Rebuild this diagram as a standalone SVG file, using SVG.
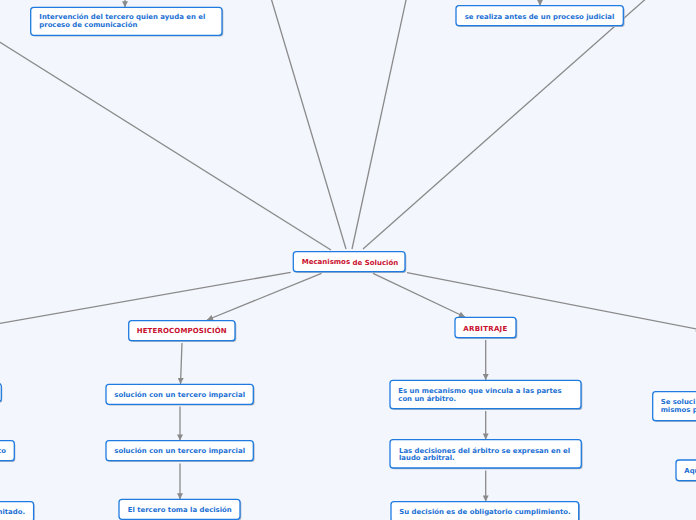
<svg xmlns="http://www.w3.org/2000/svg" width="696" height="520" viewBox="0 0 696 520">
<style>
.bg{fill:#f3f6fd}
.n rect{fill:#ffffff;stroke:#1f7be0;stroke-width:1.3}
.n .sh{fill:#a9b4c4;stroke:none}
.t{font-family:"DejaVu Sans",Verdana,sans-serif;font-weight:bold;font-size:6.9px;fill:#1a6fd4}
.r{fill:#c8102e;font-size:7px}
.c path{fill:none;stroke:#8a8a8a;stroke-width:1.3}
</style>
<defs>
<marker id="ah" viewBox="0 0 10 10" refX="10" refY="5" markerWidth="7" markerHeight="6" markerUnits="userSpaceOnUse" orient="auto">
<path d="M0,0 L10,5 L0,10 z" fill="#8a8a8a"/>
</marker>
</defs>
<rect class="bg" x="0" y="0" width="696" height="520"/>
<g id="connectors" class="c">
<path d="M331,250 L-20,29.6"/>
<path d="M346,249 L268.6,-10"/>
<path d="M352,249 L408.2,-10"/>
<path d="M363,249 L655.8,-10"/>
<path d="M290.7,272.3 L-20,326.8"/>
<path d="M321.5,273.3 L207,320" marker-end="url(#ah)"/>
<path d="M373,273.3 L465,317" marker-end="url(#ah)"/>
<path d="M407,272.7 L702,330" marker-end="url(#ah)"/>
<path d="M182,343 L180.5,384" marker-end="url(#ah)"/>
<path d="M180,406.5 L180,440.5" marker-end="url(#ah)"/>
<path d="M180,463.5 L180,499.3" marker-end="url(#ah)"/>
<path d="M485.7,340 L485.7,380" marker-end="url(#ah)"/>
<path d="M485.7,411 L485.7,439.5" marker-end="url(#ah)"/>
<path d="M485.7,470.5 L485.7,501.5" marker-end="url(#ah)"/>
<path d="M125,-10 L125,7.3" marker-end="url(#ah)"/>
<path d="M540,-10 L540,5.7" marker-end="url(#ah)"/>
</g>
<g id="n-intervencion" class="n">
<rect class="sh" x="32" y="8.5" width="191.3" height="28" rx="3"/>
<rect x="30.7" y="7.3" width="191.3" height="28" rx="3"/>
<text class="t" x="39.3" y="19" textLength="166">Intervención del tercero quien ayuda en el</text>
<text class="t" x="39.3" y="27">proceso de comunicación</text>
</g>
<g id="n-antes" class="n">
<rect class="sh" x="457.3" y="6.9" width="167.3" height="20" rx="3"/>
<rect x="456" y="5.7" width="167.3" height="20" rx="3"/>
<text class="t" x="464.7" y="18.5" textLength="149.6">se realiza antes de un proceso judicial</text>
</g>
<g id="n-mecanismos" class="n">
<rect class="sh" x="294.6" y="252.9" width="111.7" height="20" rx="3"/>
<rect x="293.3" y="251.7" width="111.7" height="20" rx="3"/>
<text class="t r" x="301.7" y="264.3">Mecanismos <tspan dy="1">de Solución</tspan></text>
</g>
<g id="n-hetero" class="n">
<rect class="sh" x="130" y="321.9" width="106.3" height="20" rx="3"/>
<rect x="128.7" y="320.7" width="106.3" height="20" rx="3"/>
<text class="t r" x="136.7" y="332.7" textLength="90">HETEROCOMPOSICIÓN</text>
</g>
<g id="n-sol1" class="n">
<rect class="sh" x="107.3" y="385.5" width="147.3" height="20" rx="3"/>
<rect x="106" y="384.3" width="147.3" height="20" rx="3"/>
<text class="t" x="114.3" y="396.7" textLength="130.7">solución con un tercero imparcial</text>
</g>
<g id="n-sol2" class="n">
<rect class="sh" x="107.3" y="441.9" width="147.3" height="20" rx="3"/>
<rect x="106" y="440.7" width="147.3" height="20" rx="3"/>
<text class="t" x="114.3" y="452.7" textLength="130.7">solución con un tercero imparcial</text>
</g>
<g id="n-decision" class="n">
<rect class="sh" x="120.3" y="500.5" width="121" height="20" rx="3"/>
<rect x="119" y="499.3" width="121" height="20" rx="3"/>
<text class="t" x="127.7" y="512" textLength="104">El tercero toma la decisión</text>
</g>
<g id="n-arbitraje" class="n">
<rect class="sh" x="456.3" y="318.5" width="61" height="20.4" rx="3"/>
<rect x="455" y="317.3" width="61" height="20.4" rx="3"/>
<text class="t r" x="463.3" y="330.7" textLength="44">ARBITRAJE</text>
</g>
<g id="n-vincula" class="n">
<rect class="sh" x="391.3" y="381.5" width="191" height="28.4" rx="3"/>
<rect x="390" y="380.3" width="191" height="28.4" rx="3"/>
<text class="t" x="398.3" y="392.7" textLength="163.3">Es un mecanismo que vincula a las partes</text>
<text class="t" x="398.3" y="400.7">con un árbitro.</text>
</g>
<g id="n-laudo" class="n">
<rect class="sh" x="391.3" y="440.9" width="191.3" height="28.3" rx="3"/>
<rect x="390" y="439.7" width="191.3" height="28.3" rx="3"/>
<text class="t" x="399" y="452.5" textLength="171">Las decisiones del árbitro se expresan en el</text>
<text class="t" x="399" y="460.3">laudo arbitral.</text>
</g>
<g id="n-obligatorio" class="n">
<rect class="sh" x="392.3" y="502.9" width="187.7" height="20" rx="3"/>
<rect x="391" y="501.7" width="187.7" height="20" rx="3"/>
<text class="t" x="399.3" y="514.3" textLength="171.3">Su decisión es de obligatorio cumplimiento.</text>
</g>
<g id="n-left1" class="n">
<rect class="sh" x="-40" y="384.5" width="42.3" height="18.4" rx="3"/>
<rect x="-41" y="383.3" width="42.3" height="18.4" rx="3"/>
</g>
<g id="n-left2" class="n">
<rect class="sh" x="-40" y="441.9" width="55.3" height="20" rx="3"/>
<rect x="-41" y="440.7" width="55.3" height="20" rx="3"/>
<text class="t" x="6" y="452.5" text-anchor="end">co</text>
</g>
<g id="n-left3" class="n">
<rect class="sh" x="-40" y="502.9" width="74.6" height="20" rx="3"/>
<rect x="-41" y="501.7" width="74.6" height="20" rx="3"/>
<text class="t" x="25" y="514" text-anchor="end">nitado.</text>
</g>
<g id="n-right1" class="n">
<rect class="sh" x="654" y="392.9" width="60" height="29" rx="3"/>
<rect x="652.7" y="391.7" width="60" height="29" rx="3"/>
<text class="t" x="660.7" y="404.3">Se soluci</text>
<text class="t" x="660.7" y="412">mismos p</text>
</g>
<g id="n-right2" class="n">
<rect class="sh" x="677.3" y="461.2" width="40" height="20.7" rx="3"/>
<rect x="676" y="460" width="40" height="20.7" rx="3"/>
<text class="t" x="684.3" y="472.7">Aqu</text>
</g>
</svg>
